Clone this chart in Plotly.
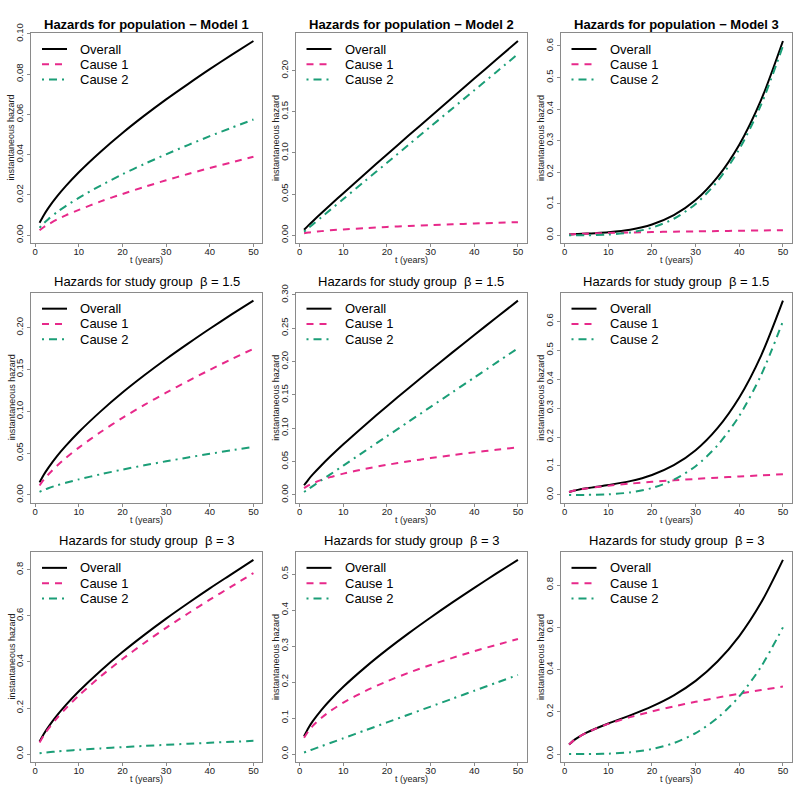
import plotly.graph_objects as go

# ---------------- data ----------------
t = [1, 2, 3, 5, 7, 10, 15, 20, 25, 30, 35, 40, 45, 50]

# Row 1: population
pop_m1_overall = [0.0062, 0.0101, 0.0135, 0.0193, 0.0244, 0.0313, 0.0415, 0.0508, 0.0594, 0.0675, 0.0751, 0.0825, 0.0896, 0.0965]
pop_m1_cause1 = [0.0025, 0.0041, 0.0054, 0.0078, 0.0099, 0.0126, 0.0168, 0.0205, 0.0240, 0.0273, 0.0304, 0.0334, 0.0362, 0.0390]
pop_m1_cause2 = [0.0037, 0.0060, 0.0080, 0.0115, 0.0145, 0.0186, 0.0247, 0.0303, 0.0354, 0.0402, 0.0448, 0.0492, 0.0534, 0.0575]

pop_m2_overall = [0.0067, 0.0120, 0.0171, 0.0270, 0.0368, 0.0511, 0.0747, 0.0981, 0.1213, 0.1443, 0.1673, 0.1902, 0.2131, 0.2359]
pop_m2_cause1 = [0.0023, 0.0032, 0.0039, 0.0050, 0.0060, 0.0071, 0.0087, 0.0101, 0.0113, 0.0123, 0.0133, 0.0142, 0.0151, 0.0159]
pop_m2_cause2 = [0.0044, 0.0088, 0.0132, 0.0220, 0.0308, 0.0440, 0.0660, 0.0880, 0.1100, 0.1320, 0.1540, 0.1760, 0.1980, 0.2200]

pop_m3_overall = [0.0023, 0.0032, 0.0039, 0.0052, 0.0065, 0.0092, 0.0173, 0.0340, 0.0636, 0.1115, 0.1843, 0.2872, 0.4291, 0.6159]
pop_m3_cause1 = [0.0023, 0.0032, 0.0039, 0.0050, 0.0060, 0.0071, 0.0087, 0.0101, 0.0113, 0.0123, 0.0133, 0.0142, 0.0151, 0.0159]
pop_m3_cause2 = [0.0000, 0.0000, 0.0000, 0.0002, 0.0006, 0.0021, 0.0086, 0.0239, 0.0523, 0.0992, 0.1710, 0.2730, 0.4140, 0.6000]

# Row 2: study group, beta = 1.5
b15_m1_overall = [0.0150, 0.0244, 0.0324, 0.0464, 0.0586, 0.0752, 0.0999, 0.1224, 0.1430, 0.1625, 0.1809, 0.1987, 0.2158, 0.2323]
b15_m1_cause1 = [0.0113, 0.0184, 0.0244, 0.0349, 0.0441, 0.0566, 0.0752, 0.0921, 0.1076, 0.1223, 0.1361, 0.1495, 0.1624, 0.1748]
b15_m1_cause2 = [0.0037, 0.0060, 0.0080, 0.0115, 0.0145, 0.0186, 0.0247, 0.0303, 0.0354, 0.0402, 0.0448, 0.0492, 0.0534, 0.0575]

b15_m2_overall = [0.0145, 0.0231, 0.0307, 0.0445, 0.0575, 0.0759, 0.1050, 0.1331, 0.1604, 0.1872, 0.2137, 0.2398, 0.2656, 0.2913]
b15_m2_cause1 = [0.0101, 0.0143, 0.0175, 0.0225, 0.0267, 0.0319, 0.0390, 0.0451, 0.0504, 0.0552, 0.0597, 0.0638, 0.0676, 0.0713]
b15_m2_cause2 = [0.0044, 0.0088, 0.0132, 0.0220, 0.0308, 0.0440, 0.0660, 0.0880, 0.1100, 0.1320, 0.1540, 0.1760, 0.1980, 0.2200]

b15_m3_overall = [0.0101, 0.0143, 0.0175, 0.0227, 0.0273, 0.0340, 0.0476, 0.0690, 0.1027, 0.1544, 0.2307, 0.3368, 0.4816, 0.6713]
b15_m3_cause1 = [0.0101, 0.0143, 0.0175, 0.0225, 0.0267, 0.0319, 0.0390, 0.0451, 0.0504, 0.0552, 0.0597, 0.0638, 0.0676, 0.0713]
b15_m3_cause2 = [0.0000, 0.0000, 0.0000, 0.0002, 0.0006, 0.0021, 0.0086, 0.0239, 0.0523, 0.0992, 0.1710, 0.2730, 0.4140, 0.6000]

# Row 3: study group, beta = 3
b3_m1_overall = [0.0543, 0.0884, 0.1173, 0.1678, 0.2123, 0.2725, 0.3619, 0.4429, 0.5175, 0.5881, 0.6548, 0.7193, 0.7811, 0.8430]
b3_m1_cause1 = [0.0506, 0.0824, 0.1093, 0.1563, 0.1978, 0.2539, 0.3372, 0.4126, 0.4821, 0.5479, 0.6100, 0.6701, 0.7277, 0.7855]
b3_m1_cause2 = [0.0037, 0.0060, 0.0080, 0.0115, 0.0145, 0.0186, 0.0247, 0.0303, 0.0354, 0.0402, 0.0448, 0.0492, 0.0534, 0.0575]

b3_m2_overall = [0.0496, 0.0727, 0.0915, 0.1230, 0.1503, 0.1870, 0.2409, 0.2901, 0.3360, 0.3795, 0.4213, 0.4618, 0.5011, 0.5396]
b3_m2_cause1 = [0.0452, 0.0639, 0.0783, 0.1010, 0.1195, 0.1430, 0.1749, 0.2021, 0.2260, 0.2475, 0.2673, 0.2858, 0.3031, 0.3196]
b3_m2_cause2 = [0.0044, 0.0088, 0.0132, 0.0220, 0.0308, 0.0440, 0.0660, 0.0880, 0.1100, 0.1320, 0.1540, 0.1760, 0.1980, 0.2200]

b3_m3_overall = [0.0452, 0.0639, 0.0783, 0.1012, 0.1201, 0.1451, 0.1835, 0.2260, 0.2783, 0.3467, 0.4383, 0.5588, 0.7171, 0.9196]
b3_m3_cause1 = [0.0452, 0.0639, 0.0783, 0.1010, 0.1195, 0.1430, 0.1749, 0.2021, 0.2260, 0.2475, 0.2673, 0.2858, 0.3031, 0.3196]
b3_m3_cause2 = [0.0000, 0.0000, 0.0000, 0.0002, 0.0006, 0.0021, 0.0086, 0.0239, 0.0523, 0.0992, 0.1710, 0.2730, 0.4140, 0.6000]

panel_titles = [
    "<b>Hazards for population \u2212 Model 1</b>",
    "<b>Hazards for population \u2212 Model 2</b>",
    "<b>Hazards for population \u2212 Model 3</b>",
    "Hazards for study group \u00a0\u03b2 = 1.5",
    "Hazards for study group \u00a0\u03b2 = 1.5",
    "Hazards for study group \u00a0\u03b2 = 1.5",
    "Hazards for study group \u00a0\u03b2 = 3",
    "Hazards for study group \u00a0\u03b2 = 3",
    "Hazards for study group \u00a0\u03b2 = 3",
]
series_names = ["Overall", "Cause 1", "Cause 2"]
x_ticks = [0, 10, 20, 30, 40, 50]
y_ticks = [
    [0.00, 0.02, 0.04, 0.06, 0.08, 0.10],
    [0.00, 0.05, 0.10, 0.15, 0.20],
    [0.0, 0.1, 0.2, 0.3, 0.4, 0.5, 0.6],
    [0.00, 0.05, 0.10, 0.15, 0.20],
    [0.00, 0.05, 0.10, 0.15, 0.20, 0.25, 0.30],
    [0.0, 0.1, 0.2, 0.3, 0.4, 0.5, 0.6],
    [0.0, 0.2, 0.4, 0.6, 0.8],
    [0.0, 0.1, 0.2, 0.3, 0.4, 0.5],
    [0.0, 0.2, 0.4, 0.6, 0.8],
]
y_tick_labels = [
    ["0.00", "0.02", "0.04", "0.06", "0.08", "0.10"],
    ["0.00", "0.05", "0.10", "0.15", "0.20"],
    ["0.0", "0.1", "0.2", "0.3", "0.4", "0.5", "0.6"],
    ["0.00", "0.05", "0.10", "0.15", "0.20"],
    ["0.00", "0.05", "0.10", "0.15", "0.20", "0.25", "0.30"],
    ["0.0", "0.1", "0.2", "0.3", "0.4", "0.5", "0.6"],
    ["0.0", "0.2", "0.4", "0.6", "0.8"],
    ["0.0", "0.1", "0.2", "0.3", "0.4", "0.5"],
    ["0.0", "0.2", "0.4", "0.6", "0.8"],
]

panels = [
    (pop_m1_overall, pop_m1_cause1, pop_m1_cause2),
    (pop_m2_overall, pop_m2_cause1, pop_m2_cause2),
    (pop_m3_overall, pop_m3_cause1, pop_m3_cause2),
    (b15_m1_overall, b15_m1_cause1, b15_m1_cause2),
    (b15_m2_overall, b15_m2_cause1, b15_m2_cause2),
    (b15_m3_overall, b15_m3_cause1, b15_m3_cause2),
    (b3_m1_overall, b3_m1_cause1, b3_m1_cause2),
    (b3_m2_overall, b3_m2_cause1, b3_m2_cause2),
    (b3_m3_overall, b3_m3_cause1, b3_m3_cause2),
]

# ---------------- styling / layout ----------------
W, H = 800, 791
FONT = "Liberation Sans, Arial, Helvetica, sans-serif"
COLORS = ["#000000", "#E7298A", "#1B9E77"]
DASHES = ["solid", "7px,6px", "2px,5px,8px,5px"]
LW = 2
FRAME = "#8a8a8a"

COL_LEFT = [31, 295.5, 560.5]
BOX_W = 231
ROW_TOP = [23.5, 286.5, 549]
BOX_H = 212.5
TITLE_Y = [14.7, 275, 537.5]


def fx(p):
    return p / W


def fy(p):
    return 1 - p / H


fig = go.Figure()
annotations = []
shapes = []
layout_axes = {}

for i, (series, title) in enumerate(zip(panels, panel_titles)):
    r, c = divmod(i, 3)
    k = "" if i == 0 else str(i + 1)
    left = COL_LEFT[c]
    right = left + BOX_W
    top = ROW_TOP[r]
    bottom = top + BOX_H
    ymax = max(max(s) for s in series)
    yrange = [-0.04 * ymax, 1.04 * ymax]

    for s, name, col, dash in zip(series, series_names, COLORS, DASHES):
        fig.add_trace(go.Scatter(
            x=t, y=s, mode="lines", name=name, showlegend=False,
            line=dict(color=col, width=LW, dash=dash, shape="spline", smoothing=0.8),
            xaxis="x" + k, yaxis="y" + k, hoverinfo="skip",
        ))

    common = dict(showgrid=False, zeroline=False, showline=True, mirror=True,
                  linecolor=FRAME, linewidth=1, ticks="outside", ticklen=3,
                  tickcolor=FRAME, tickwidth=1,
                  tickfont=dict(family=FONT, size=9.5, color="#222222"))
    layout_axes["xaxis" + k] = dict(
        domain=[fx(left), fx(right)], anchor="y" + k,
        range=[t[0] - 0.04 * (t[-1] - t[0]), t[-1] + 0.04 * (t[-1] - t[0])],
        tickvals=x_ticks, ticktext=[str(v) for v in x_ticks],
        ticklabelstandoff=-3, **common)
    layout_axes["yaxis" + k] = dict(
        domain=[fy(bottom), fy(top)], anchor="x" + k, range=yrange,
        tickvals=y_ticks[i], ticktext=y_tick_labels[i], tickangle=-90, **common)

    # panel title
    annotations.append(dict(text=title, x=fx((left + right) / 2), y=fy(TITLE_Y[r]),
                            xref="paper", yref="paper", showarrow=False,
                            xanchor="center", yanchor="middle",
                            font=dict(family=FONT, size=13, color="black")))
    # axis titles
    annotations.append(dict(text="t (years)", x=fx((left + right) / 2), y=fy(bottom + 17.5),
                            xref="paper", yref="paper", showarrow=False,
                            xanchor="center", yanchor="middle",
                            font=dict(family=FONT, size=9, color="#222222")))
    annotations.append(dict(text="instantaneous hazard", x=fx(left - 19.5), y=fy((top + bottom) / 2),
                            xref="paper", yref="paper", showarrow=False, textangle=-90,
                            xanchor="center", yanchor="middle",
                            font=dict(family=FONT, size=9, color="#222222")))
    # legend (no box, top-left inside)
    for j, (name, col, dash) in enumerate(zip(series_names, COLORS, DASHES)):
        ly = top + 16 + 15.5 * j
        shapes.append(dict(type="line", xref="paper", yref="paper",
                           x0=fx(left + 11), x1=fx(left + 36), y0=fy(ly), y1=fy(ly),
                           line=dict(color=col, width=LW, dash=dash)))
        annotations.append(dict(text=name, x=fx(left + 47), y=fy(ly),
                                xref="paper", yref="paper", showarrow=False,
                                xanchor="left", yanchor="middle",
                                font=dict(family=FONT, size=13, color="black")))

fig.update_layout(
    width=W, height=H, margin=dict(l=0, r=0, t=0, b=0, pad=0),
    paper_bgcolor="white", plot_bgcolor="white",
    showlegend=False, annotations=annotations, shapes=shapes,
    font=dict(family=FONT), **layout_axes,
)

fig.write_html("out.html", config={"displayModeBar": False},
               post_script="document.body.style.margin='0';document.body.style.overflow='hidden';")
